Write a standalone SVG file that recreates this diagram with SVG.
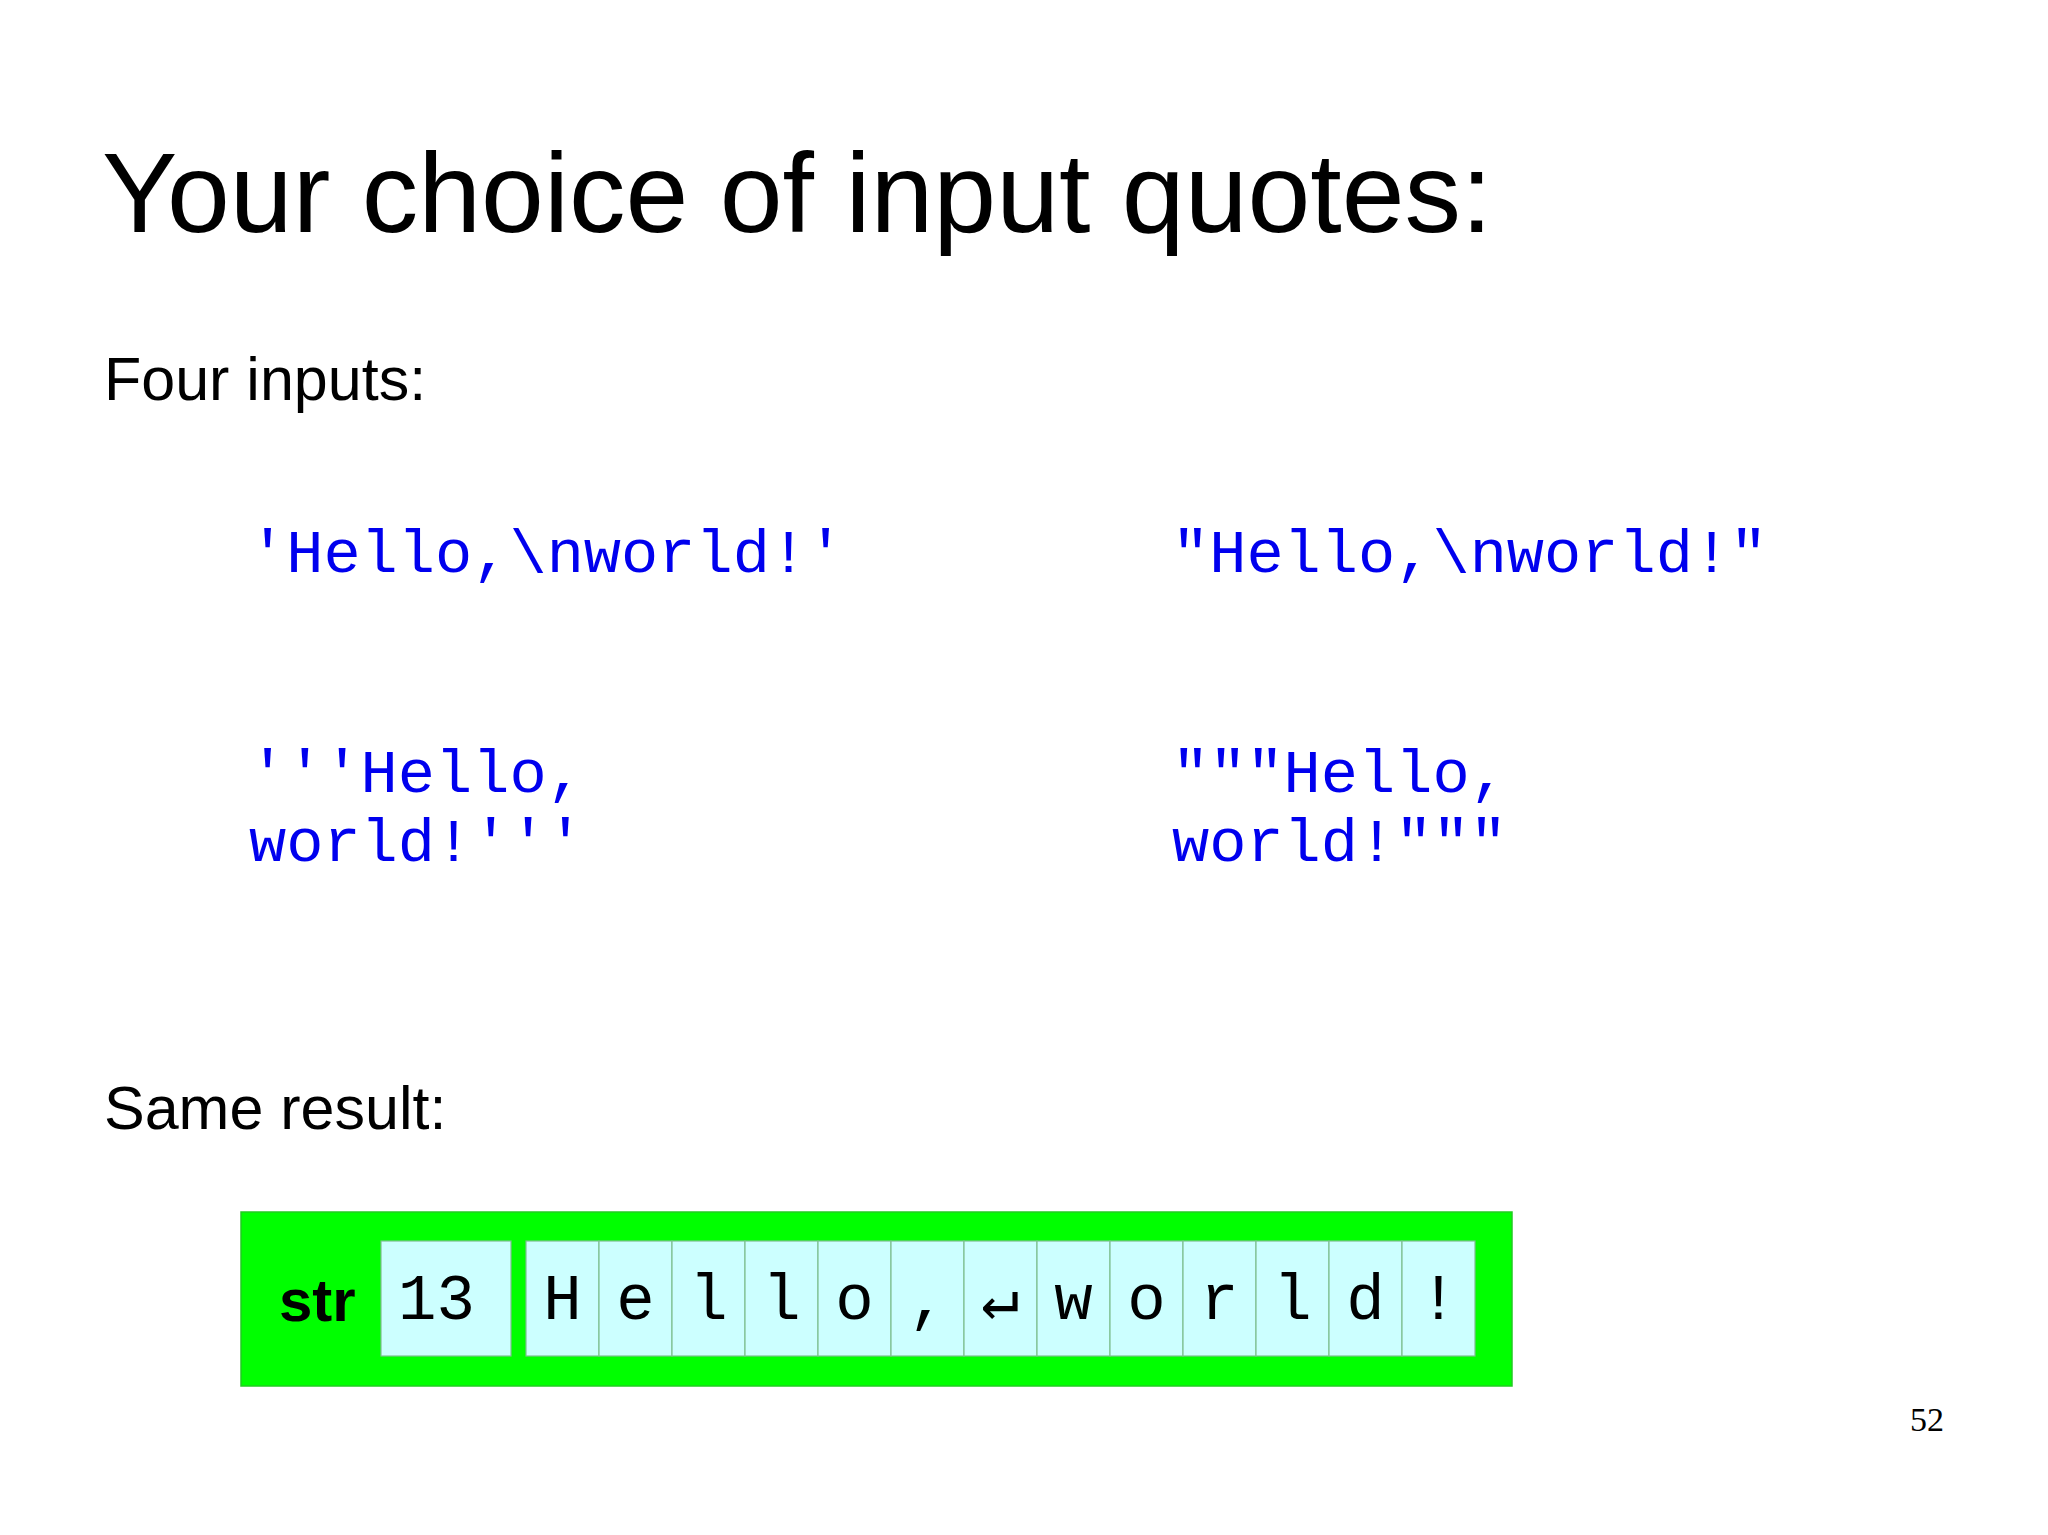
<svg xmlns="http://www.w3.org/2000/svg" width="2048" height="1535" viewBox="0 0 2048 1535">
<style>
.sans{font-family:"Liberation Sans",Arial,sans-serif;fill:#000}
.code{font-family:"Liberation Mono","DejaVu Sans Mono",monospace;font-size:62px;fill:#0000ee}
.cell{fill:#ccffff;stroke:#7dbf8f;stroke-width:1.2}
.ch{font-family:"Liberation Mono","DejaVu Sans Mono",monospace;font-size:64px;fill:#000;text-anchor:middle}
</style>
<rect width="2048" height="1535" fill="#ffffff"/>
<g id="title"><text class="sans" x="102" y="232" font-size="113">Your choice of input quotes:</text></g>
<g id="four-inputs"><text class="sans" x="104" y="400" font-size="61">Four inputs:</text></g>
<g id="input-single"><text class="code" x="249" y="572">'Hello,\nworld!'</text></g>
<g id="input-double"><text class="code" x="1172" y="572">"Hello,\nworld!"</text></g>
<g id="input-triple-single"><text class="code" x="249" y="792">'''Hello,</text><text class="code" x="249" y="861">world!'''</text></g>
<g id="input-triple-double"><text class="code" x="1172" y="792">"""Hello,</text><text class="code" x="1172" y="861">world!"""</text></g>
<g id="same-result"><text class="sans" x="104" y="1129" font-size="61">Same result:</text></g>
<g id="str-object">
<rect x="241" y="1212" width="1271" height="174" fill="#00ff00" stroke="#22cc22" stroke-width="1.5"/>
<text class="sans" x="279" y="1321" font-size="60" font-weight="bold">str</text>
<rect class="cell" x="381" y="1241" width="130" height="115"/>
<text class="ch" x="398" y="1319" style="text-anchor:start">13</text>
<g id="chars">
<rect class="cell" x="526" y="1241" width="73" height="115"/>
<rect class="cell" x="599" y="1241" width="73" height="115"/>
<rect class="cell" x="672" y="1241" width="73" height="115"/>
<rect class="cell" x="745" y="1241" width="73" height="115"/>
<rect class="cell" x="818" y="1241" width="73" height="115"/>
<rect class="cell" x="891" y="1241" width="73" height="115"/>
<rect class="cell" x="964" y="1241" width="73" height="115"/>
<rect class="cell" x="1037" y="1241" width="73" height="115"/>
<rect class="cell" x="1110" y="1241" width="73" height="115"/>
<rect class="cell" x="1183" y="1241" width="73" height="115"/>
<rect class="cell" x="1256" y="1241" width="73" height="115"/>
<rect class="cell" x="1329" y="1241" width="73" height="115"/>
<rect class="cell" x="1402" y="1241" width="73" height="115"/>
<text class="ch" x="562.5" y="1319">H</text>
<text class="ch" x="635.5" y="1319">e</text>
<text class="ch" x="708.5" y="1319">l</text>
<text class="ch" x="781.5" y="1319">l</text>
<text class="ch" x="854.5" y="1319">o</text>
<text class="ch" x="927.5" y="1319">,</text>
<text class="ch" x="1000.5" y="1319">↵</text>
<text class="ch" x="1073.5" y="1319">w</text>
<text class="ch" x="1146.5" y="1319">o</text>
<text class="ch" x="1219.5" y="1319">r</text>
<text class="ch" x="1292.5" y="1319">l</text>
<text class="ch" x="1365.5" y="1319">d</text>
<text class="ch" x="1438.5" y="1319">!</text>
</g>
</g>
<g id="page-number"><text x="1944" y="1431" font-family="Liberation Serif,serif" font-size="34" text-anchor="end" fill="#000">52</text></g>
<g id="connectors"></g>
</svg>
